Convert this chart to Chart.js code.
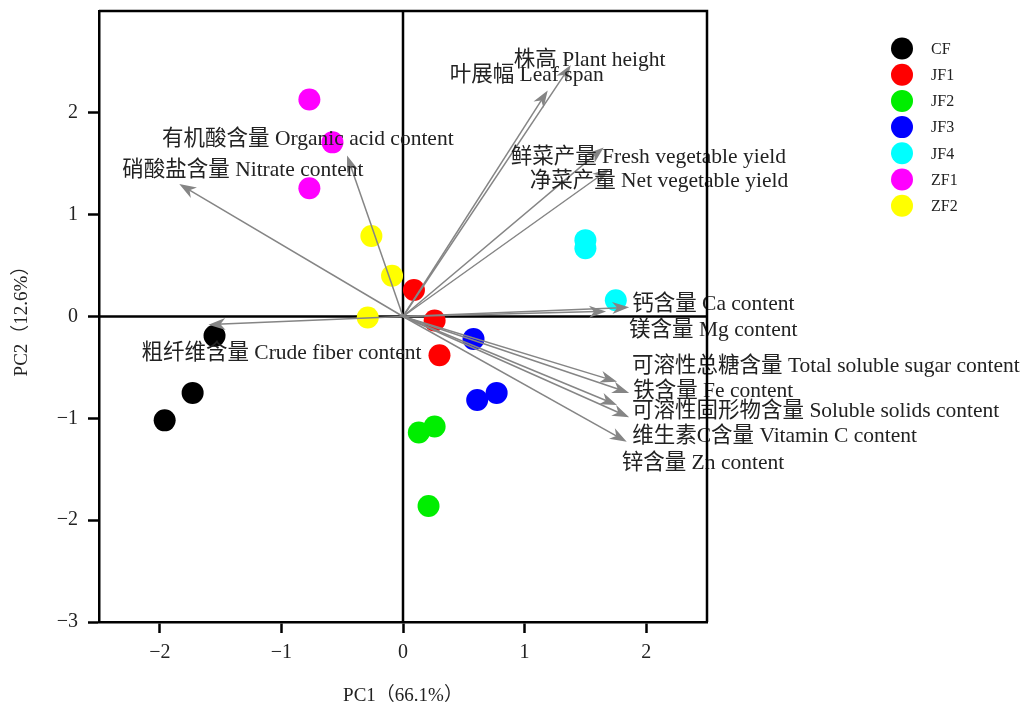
<!DOCTYPE html>
<html>
<head>
<meta charset="utf-8">
<script src="https://cdn.jsdelivr.net/npm/chart.js@4"></script>
<style>
  html, body { margin: 0; background: #fff; }
  #wrap { width: 1030px; height: 709px; }
</style>
</head>
<body>
<div id="wrap"><canvas id="chart"></canvas></div>
<script>
// treatment groups and their PCA scores (3 replicates each)
const groups = ["CF", "JF1", "JF2", "JF3", "JF4", "ZF1", "ZF2"];
const pc1Scores = [
  [-1.55, -1.73, -1.96],
  [0.09, 0.26, 0.30],
  [0.13, 0.26, 0.21],
  [0.58, 0.61, 0.77],
  [1.50, 1.50, 1.75],
  [-0.77, -0.58, -0.77],
  [-0.26, -0.09, -0.29],
];
const pc2Scores = [
  [-0.19, -0.75, -1.02],
  [0.26, -0.04, -0.38],
  [-1.14, -1.08, -1.86],
  [-0.22, -0.82, -0.75],
  [0.75, 0.67, 0.16],
  [2.13, 1.71, 1.26],
  [0.79, 0.40, -0.01],
];

// variable loadings (arrows)
const loadingNames = [
  "株高 Plant height",
  "叶展幅 Leaf span",
  "鲜菜产量 Fresh vegetable yield",
  "净菜产量 Net vegetable yield",
  "钙含量 Ca content",
  "镁含量 Mg content",
  "可溶性总糖含量 Total soluble sugar content",
  "铁含量 Fe content",
  "可溶性固形物含量 Soluble solids content",
  "维生素C含量 Vitamin C content",
  "锌含量 Zn content",
  "有机酸含量 Organic acid content",
  "硝酸盐含量 Nitrate content",
  "粗纤维含量 Crude fiber content",
];
const loadingPC1 = [1.38, 1.19, 1.65, 1.70, 1.86, 1.67, 1.76, 1.86, 1.76, 1.86, 1.84, -0.46, -1.84, -1.60];
const loadingPC2 = [2.47, 2.22, 1.66, 1.45, 0.09, 0.05, -0.64, -0.75, -0.87, -0.99, -1.23, 1.58, 1.30, -0.08];

const xTicks = [-2, -1, 0, 1, 2];
const xTitle = "PC1（66.1%）";
const yTitle = "PC2（12.6%）";

// styling
const groupColors = ["#000000", "#ff0000", "#00ee00", "#0000ff", "#00ffff", "#ff00ff", "#ffff00"];
// label position relative to arrow tip, in pixels [dx, dy]
const labelOffsets = [
  [-57, -5], [-98, -15], [-93, 10], [-80, 13], [3, -3], [23, 19], [15, -15],
  [4, -2], [15, 6], [3, 19], [-5, 22], [-185, -16], [-57, -14], [-67, 29],
];
const SERIF = '"Liberation Serif", "Noto Sans CJK SC", serif';
const textColor = "#222";

function fmtTick(v) {
  return v < 0 ? "\u2212" + Math.abs(v) : String(v);
}

function drawArrow(ctx, x0, y0, x1, y1) {
  const ang = Math.atan2(y1 - y0, x1 - x0);
  const c = Math.cos(ang), s = Math.sin(ang);
  const len = 17, half = 6;
  const bx = x1 - len * c, by = y1 - len * s;
  ctx.beginPath();
  ctx.moveTo(x0, y0);
  ctx.lineTo(x1 - 8 * c, y1 - 8 * s);
  ctx.stroke();
  ctx.beginPath();
  ctx.moveTo(x1, y1);
  ctx.lineTo(bx + half * s, by - half * c);
  ctx.lineTo(x1 - 12 * c, y1 - 12 * s);
  ctx.lineTo(bx - half * s, by + half * c);
  ctx.closePath();
  ctx.fill();
}

const biplotLayer = {
  id: "biplotLayer",
  beforeDatasetsDraw(chart) {
    const { ctx, chartArea: a, scales: { x, y } } = chart;
    const x0 = x.getPixelForValue(0), y0 = y.getPixelForValue(0);
    ctx.save();
    ctx.strokeStyle = "#000";
    ctx.lineWidth = 2.5;
    ctx.beginPath();
    ctx.moveTo(x0, a.top);
    ctx.lineTo(x0, a.bottom);
    ctx.moveTo(a.left, y0);
    ctx.lineTo(a.right, y0);
    ctx.stroke();
    ctx.restore();
  },
  afterDatasetsDraw(chart) {
    const { ctx, chartArea: a, scales: { x, y } } = chart;
    const x0 = x.getPixelForValue(0), y0 = y.getPixelForValue(0);
    ctx.save();
    // arrows
    ctx.strokeStyle = "#858585";
    ctx.fillStyle = "#858585";
    ctx.lineWidth = 1.5;
    loadingNames.forEach((name, i) => {
      const tx = x.getPixelForValue(loadingPC1[i]);
      const ty = y.getPixelForValue(loadingPC2[i]);
      drawArrow(ctx, x0, y0, tx, ty);
    });
    // labels
    ctx.fillStyle = textColor;
    ctx.font = "21.5px " + SERIF;
    ctx.textBaseline = "middle";
    ctx.textAlign = "left";
    loadingNames.forEach((name, i) => {
      const tx = x.getPixelForValue(loadingPC1[i]);
      const ty = y.getPixelForValue(loadingPC2[i]);
      ctx.fillText(name, tx + labelOffsets[i][0], ty + labelOffsets[i][1]);
    });
    // frame
    ctx.strokeStyle = "#000";
    ctx.lineWidth = 2.5;
    ctx.beginPath();
    ctx.moveTo(a.left, a.top);
    ctx.lineTo(a.right, a.top);
    ctx.lineTo(a.right, a.bottom);
    ctx.stroke();
    ctx.restore();
  },
  afterDraw(chart) {
    // legend
    const ctx = chart.ctx;
    ctx.save();
    ctx.font = "16px " + SERIF;
    ctx.textBaseline = "middle";
    ctx.textAlign = "left";
    groups.forEach((g, i) => {
      const cy = 48.5 + i * 26.2;
      ctx.fillStyle = groupColors[i];
      ctx.beginPath();
      ctx.arc(902, cy, 11, 0, Math.PI * 2);
      ctx.fill();
      ctx.fillStyle = textColor;
      ctx.fillText(g, 931, cy + 1);
    });
    ctx.restore();
  },
};

const datasets = groups.map((g, i) => ({
  label: g,
  data: pc1Scores[i].map((v, j) => ({ x: v, y: pc2Scores[i][j] })),
  backgroundColor: groupColors[i],
  borderWidth: 0,
  pointRadius: 11,
  pointHoverRadius: 11,
}));

new Chart(document.getElementById("chart"), {
  type: "scatter",
  data: { datasets },
  plugins: [biplotLayer],
  options: {
    responsive: true,
    maintainAspectRatio: false,
    animation: false,
    devicePixelRatio: 1,
    layout: { padding: { top: 9, right: 323, left: 0, bottom: 0 } },
    plugins: { legend: { display: false }, tooltip: { enabled: false } },
    scales: {
      x: {
        type: "linear",
        min: -2.5,
        max: 2.5,
        afterBuildTicks: (s) => { s.ticks = xTicks.map((v) => ({ value: v })); },
        afterFit: (s) => { s.height = 87; s.paddingLeft = 0; s.paddingRight = 0; },
        grid: { drawOnChartArea: false, drawTicks: true, tickLength: 11, tickWidth: 2.5, tickColor: "#000" },
        border: { display: true, color: "#000", width: 2.5 },
        ticks: { font: { family: SERIF, size: 20 }, color: textColor, padding: 8, callback: (v) => fmtTick(v) },
        title: { display: true, text: xTitle, font: { family: SERIF, size: 19 }, color: textColor, padding: { top: 0, bottom: 2 } },
      },
      y: {
        type: "linear",
        min: -3,
        max: 3,
        ticks: {
          stepSize: 1,
          font: { family: SERIF, size: 20 },
          color: textColor,
          padding: 10,
          callback: (v) => (v === 3 ? "" : fmtTick(v)),
        },
        afterFit: (s) => { s.width = 99; s.paddingTop = 0; s.paddingBottom = 0; },
        grid: {
          drawOnChartArea: false,
          drawTicks: true,
          tickLength: 11,
          tickWidth: 2.5,
          tickColor: (c) => (c.tick && c.tick.value === 3 ? "rgba(0,0,0,0)" : "#000"),
        },
        border: { display: true, color: "#000", width: 2.5 },
        title: { display: true, text: yTitle, font: { family: SERIF, size: 19 }, color: textColor, padding: { top: 11, bottom: 0 } },
      },
    },
  },
});
</script>
</body>
</html>
